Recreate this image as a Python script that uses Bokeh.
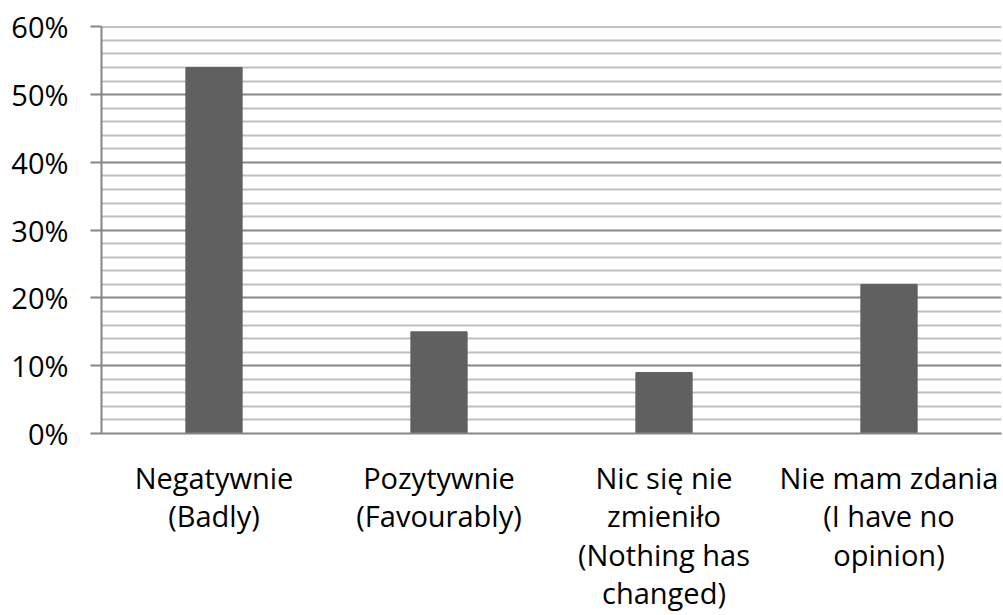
from bokeh.plotting import figure
from bokeh.models import FixedTicker, NumeralTickFormatter, FactorRange, Range1d
from bokeh.embed import file_html
from bokeh.resources import INLINE

categories = [
    "Negatywnie\n(Badly)",
    "Pozytywnie\n(Favourably)",
    "Nic się nie\nzmieniło\n(Nothing has\nchanged)",
    "Nie mam zdania\n(I have no\nopinion)",
]
values = [0.54, 0.15, 0.09, 0.22]
major_ticks = [0.0, 0.1, 0.2, 0.3, 0.4, 0.5, 0.6]
minor_ticks = [round(i * 0.02, 2) for i in range(31) if i % 5 != 0]

FONT = "Open Sans"
GRAY = "#868686"

p = figure(
    x_range=FactorRange(*categories, range_padding=0),
    y_range=Range1d(0, 0.6005),
    width=1003, height=615,
    output_backend="svg", toolbar_location=None,
    min_border_left=101, min_border_right=2, min_border_top=26, min_border_bottom=179,
)
p.outline_line_color = None
p.background_fill_color = "white"

p.vbar(x=categories, top=values, width=0.25, color="#606060")

ticker = FixedTicker(ticks=major_ticks, minor_ticks=minor_ticks)
p.yaxis.ticker = ticker
p.yaxis.formatter = NumeralTickFormatter(format="0%")
p.ygrid.ticker = ticker
p.ygrid.grid_line_color = GRAY
p.ygrid.grid_line_width = 2
p.ygrid.minor_grid_line_color = "#bfbfbf"
p.ygrid.minor_grid_line_width = 2
p.xgrid.grid_line_color = None

for ax in (p.xaxis, p.yaxis):
    ax.axis_line_color = GRAY
    ax.axis_line_width = 2
    ax.major_label_text_font = FONT
    ax.major_label_text_font_size = "29px"
    ax.major_label_text_color = "black"
    ax.minor_tick_line_color = None

p.yaxis.major_tick_line_color = GRAY
p.yaxis.major_tick_line_width = 2
p.yaxis.major_tick_out = 11
p.yaxis.major_tick_in = 0
p.yaxis.major_label_standoff = 22

p.xaxis.major_tick_line_color = None
p.xaxis.major_label_standoff = 18
p.xaxis.major_label_text_line_height = 0.99
p.xaxis.major_label_text_align = "center"

open("out.html", "w").write(file_html(p, INLINE))
